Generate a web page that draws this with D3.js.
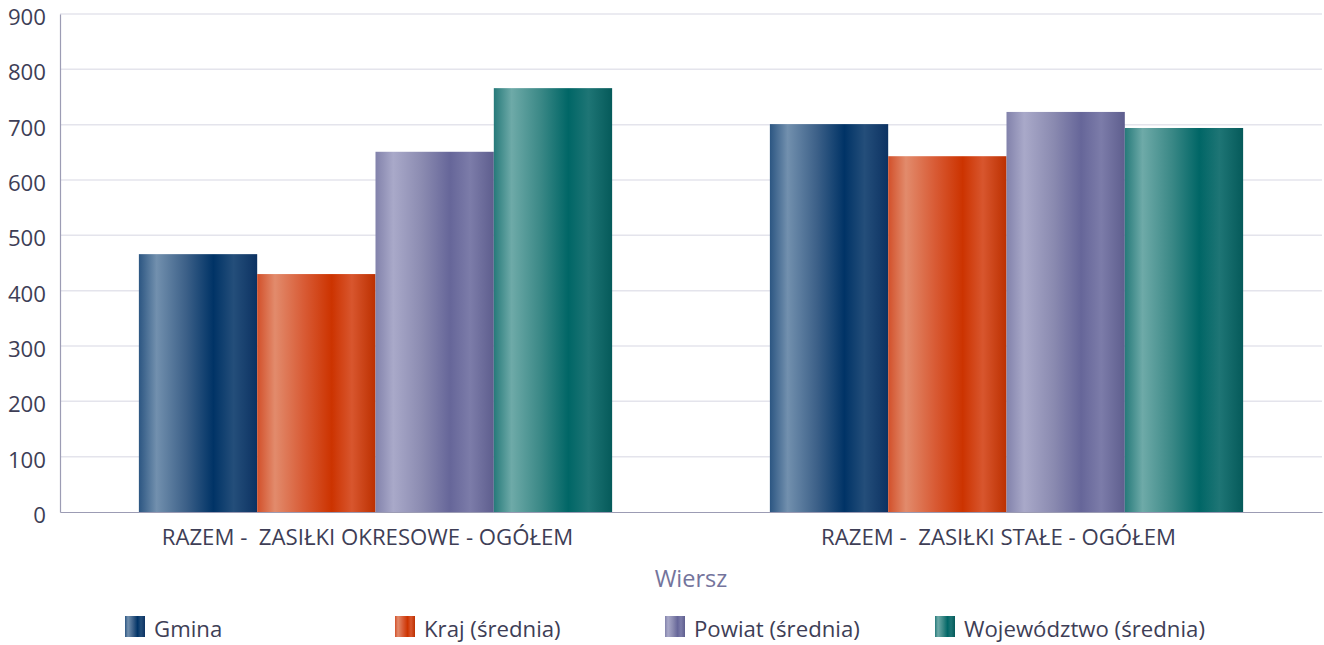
<!DOCTYPE html>
<html><head><meta charset="utf-8">
<script src="https://cdn.jsdelivr.net/npm/d3@7"></script>
<style>
html,body{margin:0;padding:0;background:#fff;}
svg{display:block;font-family:"Open Sans","Noto Sans",sans-serif;}
</style></head>
<body><svg id="c" width="1324" height="645"></svg>
<script>
const categories = ["RAZEM -  ZASIŁKI OKRESOWE - OGÓŁEM", "RAZEM -  ZASIŁKI STAŁE - OGÓŁEM"];
const seriesNames = ["Gmina", "Kraj (średnia)", "Powiat (średnia)", "Województwo (średnia)"];
const gmina = [466, 701];
const kraj = [430, 643];
const powiat = [651, 723];
const wojewodztwo = [766, 694];
const yTicks = [0, 100, 200, 300, 400, 500, 600, 700, 800, 900];
const axisTitle = "Wiersz";

const seriesValues = [gmina, kraj, powiat, wojewodztwo];
const gradients = [
  [["0", "#2c5682"], ["0.15", "#7290ae"], ["0.4", "#3c6088"], ["0.63", "#003366"], ["0.8", "#244e7a"], ["1", "#0c3262"]],
  [["0", "#d2502a"], ["0.15", "#e28b6c"], ["0.4", "#d85a34"], ["0.63", "#cc3300"], ["0.8", "#d8562e"], ["1", "#bc3000"]],
  [["0", "#8282ab"], ["0.15", "#a9a9c9"], ["0.4", "#8a8ab0"], ["0.63", "#666699"], ["0.8", "#7c7ca9"], ["1", "#5e5e8e"]],
  [["0", "#267a7a"], ["0.15", "#6eaaa8"], ["0.4", "#3a8886"], ["0.63", "#006666"], ["0.8", "#1e7575"], ["1", "#055a5a"]]
];

const svg = d3.select("#c");
const M = {left: 60, right: 1322, top: 14, bottom: 512};
const FS = 22.2;

const defs = svg.append("defs");
gradients.forEach((g, i) => {
  const lg = defs.append("linearGradient").attr("id", "g" + i)
    .attr("x1", "0").attr("x2", "1").attr("y1", "0").attr("y2", "0");
  g.forEach(s => lg.append("stop").attr("offset", s[0]).attr("stop-color", s[1]));
});

const x0 = d3.scaleBand().domain(categories).range([M.left, M.right]).paddingInner(0.25).paddingOuter(0.125);
const x1 = d3.scaleBand().domain(d3.range(seriesNames.length)).range([0, x0.bandwidth()]);
const y = d3.scaleLinear().domain([0, 900]).range([M.bottom, M.top]);

// grid
svg.append("g").selectAll("line").data(yTicks.filter(t => t > 0)).join("line")
  .attr("x1", M.left).attr("x2", M.right)
  .attr("y1", d => y(d)).attr("y2", d => y(d))
  .attr("stroke", "#e4e4ec").attr("stroke-width", 1.5);

// bars
const groups = svg.append("g").selectAll("g").data(categories).join("g")
  .attr("transform", d => `translate(${x0(d)},0)`);
groups.selectAll("rect").data((c, ci) => seriesValues.map((s, si) => ({si, v: s[ci]}))).join("rect")
  .attr("x", d => x1(d.si))
  .attr("width", x1.bandwidth())
  .attr("y", d => y(d.v))
  .attr("height", d => y(0) - y(d.v))
  .attr("fill", d => `url(#g${d.si})`);

// y axis
const yAxis = d3.axisLeft(y).tickValues(yTicks).tickSize(0).tickPadding(14);
const ya = svg.append("g").attr("transform", `translate(${M.left},0)`).call(yAxis);
ya.select(".domain").attr("stroke", "#9c9cb4").attr("stroke-width", 1.2);
ya.selectAll("text").attr("font-size", FS).attr("fill", "#3e3e56")
  .attr("font-family", "'Open Sans','Noto Sans',sans-serif").attr("dy", "0.48em");

// x axis
const xAxis = d3.axisBottom(x0).tickSize(0).tickPadding(0);
const xa = svg.append("g").attr("transform", `translate(0,${M.bottom})`).call(xAxis);
xa.select(".domain").attr("stroke", "#9c9cb4").attr("stroke-width", 1.2);
xa.selectAll("text").attr("font-size", FS).attr("fill", "#3e3e56")
  .attr("font-family", "'Open Sans','Noto Sans',sans-serif")
  .attr("dy", 0).attr("y", 33).attr("dx", -8).style("white-space", "pre");

// axis title
svg.append("text").attr("x", 691).attr("y", 587).attr("text-anchor", "middle")
  .attr("font-size", 23.5).attr("fill", "#74749c").text(axisTitle);

// legend
const legendX = [125, 395, 665, 935];
const lg = svg.append("g").selectAll("g").data(seriesNames).join("g")
  .attr("transform", (d, i) => `translate(${legendX[i]},616)`);
lg.append("rect").attr("width", 20).attr("height", 21).attr("fill", (d, i) => `url(#g${i})`);
lg.append("text").attr("x", 29).attr("y", 21).attr("font-size", FS).attr("fill", "#3e3e56").text(d => d);
</script></body></html>
